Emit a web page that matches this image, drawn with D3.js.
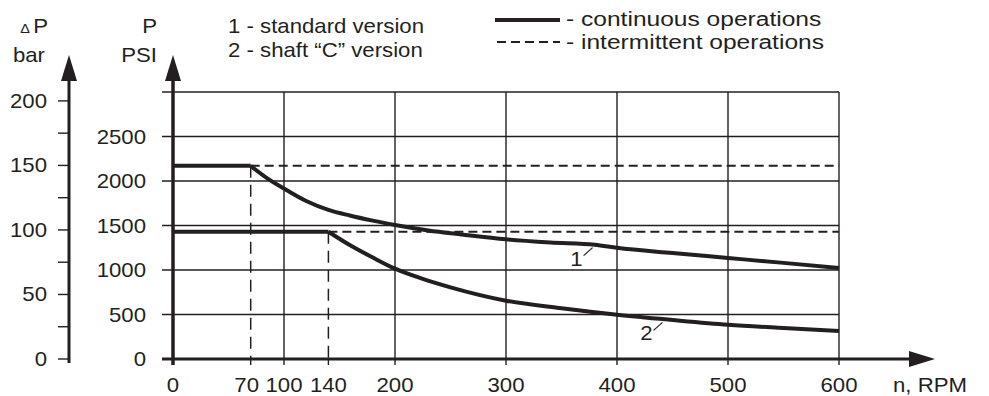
<!DOCTYPE html>
<html><head><meta charset="utf-8">
<script src="https://cdn.jsdelivr.net/npm/d3@7"></script>
<style>
body{margin:0;background:#fff}
text{font-family:"Liberation Sans",Arial,Helvetica,sans-serif;fill:#231f20}
</style>
</head><body>
<svg id="chart" width="989" height="396"></svg>
<script>
// Speed ticks (RPM) and pressure ticks
const speedTicks = [0, 70, 100, 140, 200, 300, 400, 500, 600];
const speedGrid = [100, 200, 300, 400, 500, 600];
const psiTicks = [0, 500, 1000, 1500, 2000, 2500];
const psiGrid = [500, 1000, 1500, 2000, 2500, 3000];
const barTicks = [0, 25, 50, 75, 100, 125, 150, 175, 200];
const barLabels = [0, 50, 100, 150, 200];

// Pressure limits, PSI vs RPM
const standardFlat = [[0, 2170], [70, 2170]];
const standardCurve = [[70, 2170], [85, 2030], [100, 1915], [120, 1775], [140, 1675], [160, 1610],
  [180, 1555], [200, 1505], [230, 1445], [260, 1400], [300, 1345], [340, 1310], [380, 1285],
  [400, 1250], [450, 1190], [500, 1135], [550, 1080], [600, 1022]];
const shaftFlat = [[0, 1430], [140, 1430]];
const shaftCurve = [[140, 1430], [160, 1275], [180, 1140], [200, 1015], [225, 900], [250, 805],
  [300, 655], [350, 570], [400, 497], [450, 438], [500, 385], [550, 348], [600, 315]];
// Intermittent limits: corner speed and pressure
const intermittent = [{ rpm: 70, psi: 2170 }, { rpm: 140, psi: 1430 }];
const curveTags = [{ text: "1", rpm: 378, psi: 1285 }, { text: "2", rpm: 441, psi: 445 }];

const legendVersions = ["1 - standard version", "2 - shaft \u201CC\u201D version"];
const legendModes = ["- continuous operations", "- intermittent operations"];

const INK = "#231f20";
const SX = 1.11; // horizontal text stretch

const svg = d3.select("#chart");
const x = d3.scaleLinear().domain([0, 600]).range([173, 839]);
const y = d3.scaleLinear().domain([0, 3000]).range([359, 92]);
const yBar = d3.scaleLinear().domain([0, 3000 / 14.5]).range([359, 92]);

function label(g, px, py, txt, size, anchor, sx = SX) {
  return g.append("text")
    .attr("transform", `translate(${px},${py}) scale(${sx},1)`)
    .attr("text-anchor", anchor || "start")
    .attr("font-size", size)
    .text(txt);
}

const grid = svg.append("g").attr("stroke", INK).attr("stroke-width", 1.4);
// horizontal grid lines (extend left of the PSI axis as ticks)
grid.selectAll("line.h").data(psiGrid).join("line")
  .attr("x1", x(0) - 11).attr("x2", x(600))
  .attr("y1", d => y(d)).attr("y2", d => y(d));
// vertical grid lines (extend below the RPM axis as ticks)
grid.selectAll("line.v").data(speedGrid).join("line")
  .attr("x1", d => x(d)).attr("x2", d => x(d))
  .attr("y1", y(3000)).attr("y2", y(0) + 6);
grid.selectAll("line.t").data([70, 140]).join("line")
  .attr("x1", d => x(d)).attr("x2", d => x(d))
  .attr("y1", y(0)).attr("y2", y(0) + 6);

// intermittent (dashed) limits
const dash = svg.append("g").attr("stroke", INK).attr("fill", "none");
dash.selectAll("line.h").data(intermittent).join("line")
  .attr("stroke-width", 2).attr("stroke-dasharray", "9,5")
  .attr("x1", d => x(d.rpm)).attr("x2", x(600))
  .attr("y1", d => y(d.psi)).attr("y2", d => y(d.psi));
dash.selectAll("line.v").data(intermittent).join("line")
  .attr("stroke-width", 1.5).attr("stroke-dasharray", "12,7")
  .attr("x1", d => x(d.rpm)).attr("x2", d => x(d.rpm))
  .attr("y1", d => y(d.psi)).attr("y2", y(0));

// continuous limits
const lin = d3.line().x(d => x(d[0])).y(d => y(d[1]));
const smooth = d3.line().x(d => x(d[0])).y(d => y(d[1])).curve(d3.curveMonotoneX);
const curves = svg.append("g").attr("stroke", INK).attr("stroke-width", 4).attr("fill", "none")
  .attr("stroke-linejoin", "round");
curves.append("path").attr("d", lin(standardFlat));
curves.append("path").attr("d", smooth(standardCurve));
curves.append("path").attr("d", lin(shaftFlat));
curves.append("path").attr("d", smooth(shaftCurve));

// curve tags
curveTags.forEach(t => {
  const px = x(t.rpm), py = y(t.psi);
  svg.append("line").attr("stroke", INK).attr("stroke-width", 1.2)
    .attr("x1", px).attr("y1", py + 3).attr("x2", px - 9).attr("y2", py + 11);
  label(svg, px - 10, py + 21, t.text, 20, "end");
});

// axes
const axes = svg.append("g").attr("stroke", INK).attr("fill", INK);
// bar axis
axes.append("line").attr("stroke-width", 3)
  .attr("x1", 69).attr("x2", 69).attr("y1", yBar(0) + 4).attr("y2", 70);
axes.append("path").attr("stroke", "none")
  .attr("d", `M69,55 L77,81 L61,81 Z`);
axes.selectAll("line.bt").data(barTicks).join("line").attr("stroke-width", 1.4)
  .attr("x1", 58).attr("x2", 69).attr("y1", d => yBar(d)).attr("y2", d => yBar(d));
// PSI axis
axes.append("line").attr("stroke-width", 3.5)
  .attr("x1", x(0)).attr("x2", x(0)).attr("y1", y(0) + 6).attr("y2", 70);
axes.append("path").attr("stroke", "none")
  .attr("d", `M${x(0)},55 L${x(0) + 8},81 L${x(0) - 8},81 Z`);
// RPM axis
axes.append("line").attr("stroke-width", 3)
  .attr("x1", x(0) - 11).attr("x2", 915).attr("y1", y(0)).attr("y2", y(0));
axes.append("path").attr("stroke", "none")
  .attr("d", `M935,${y(0)} L909,${y(0) - 8} L909,${y(0) + 8} Z`);

// tick labels
const txt = svg.append("g");
barLabels.forEach(v => label(txt, 47, yBar(v) + 7, v, 20, "end"));
psiTicks.forEach(v => label(txt, 146, y(v) + 7, v, 20, "end"));
speedTicks.forEach(v => label(txt, x(v) + (v === 70 ? -4 : 0), 392, v, 20, "middle"));
label(txt, 893, 392, "n, RPM", 20, "start");

// axis titles
const dp = txt.append("text").attr("transform", `translate(48,33) scale(${SX},1)`)
  .attr("text-anchor", "end").attr("font-size", 20);
dp.append("tspan").attr("font-size", 13).text("\u0394");
dp.append("tspan").attr("dx", 3).text("P");
label(txt, 45, 62, "bar", 20, "end");
label(txt, 157, 33, "P", 20, "end");
label(txt, 157, 62, "PSI", 20, "end");

// legends
legendVersions.forEach((s, i) => label(txt, 228, 33 + i * 24, s, 20, "start"));
svg.append("line").attr("stroke", INK).attr("stroke-width", 4)
  .attr("x1", 495).attr("x2", 560).attr("y1", 20).attr("y2", 20);
svg.append("line").attr("stroke", INK).attr("stroke-width", 2).attr("stroke-dasharray", "9,5")
  .attr("x1", 497).attr("x2", 560).attr("y1", 42).attr("y2", 42);
legendModes.forEach((s, i) => label(txt, 566, 26 + i * 23, s, 21, "start", 1.17));
</script>
</body></html>
